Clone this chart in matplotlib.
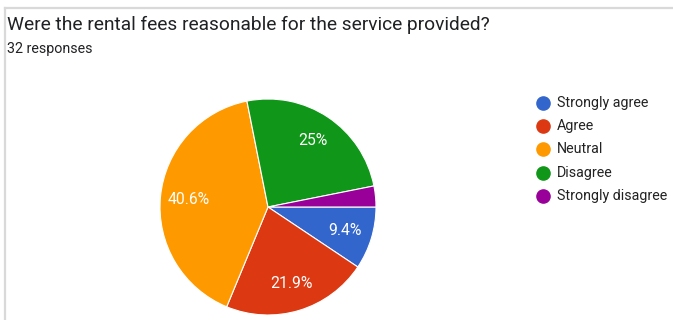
import matplotlib.pyplot as plt
from matplotlib.lines import Line2D

plt.rcParams['font.family'] = ['Roboto', 'DejaVu Sans']

title = 'Were the rental fees reasonable for the service provided?'
subtitle = '32 responses'
answers = ['Strongly agree', 'Agree', 'Neutral', 'Disagree', 'Strongly disagree']
counts = [3, 7, 13, 8, 1]
colors = ['#3366cc', '#dc3912', '#ff9900', '#109618', '#990099']

W, H = 673, 320
fig = plt.figure(figsize=(W / 100, H / 100), dpi=100)
fig.patch.set_facecolor('white')


def px(x, y):
    # pixel position (from top-left) -> figure fraction
    return x / W, 1 - y / H


# card border
border = '#d9d9d9'
fig.add_artist(Line2D([5 / W, 1], [1 - 8 / H] * 2, color=border, lw=1.6))
fig.add_artist(Line2D([5 / W] * 2, [0, 1 - 8 / H], color=border, lw=1.6))

fig.text(*px(7, 30), title, fontsize=13.8, color='#202124', va='baseline')
fig.text(*px(7, 53), subtitle, fontsize=10.3, color='#202124', va='baseline')

# pie
cx, cy, r = 268, 207, 108
ax = fig.add_axes([(cx - r) / W, (H - cy - r) / H, 2 * r / W, 2 * r / H])


def label(pct):
    # small slices stay unlabeled, whole numbers drop the ".0"
    if pct < 5:
        return ''
    s = f'{pct:.1f}'
    if s.endswith('.0'):
        s = s[:-2]
    return s + '%'


wedges, _, autotexts = ax.pie(counts, colors=colors, startangle=0, counterclock=False,
                              radius=1, autopct=label, pctdistance=0.74,
                              wedgeprops=dict(edgecolor='white', linewidth=0.8),
                              textprops=dict(color='white', fontsize=11.3))
ax.set_xlim(-1, 1)
ax.set_ylim(-1, 1)
ax.set_aspect('equal')
ax.axis('off')

# legend
for i, (name, c) in enumerate(zip(answers, colors)):
    y = 103 + i * 23.2
    fig.add_artist(Line2D([543 / W], [1 - y / H], marker='o', markersize=9.5,
                          color=c, linestyle='none'))
    fig.text(*px(557, y), name, fontsize=10.3, color='#222222', va='center')

fig.savefig('out.png', dpi=100)
